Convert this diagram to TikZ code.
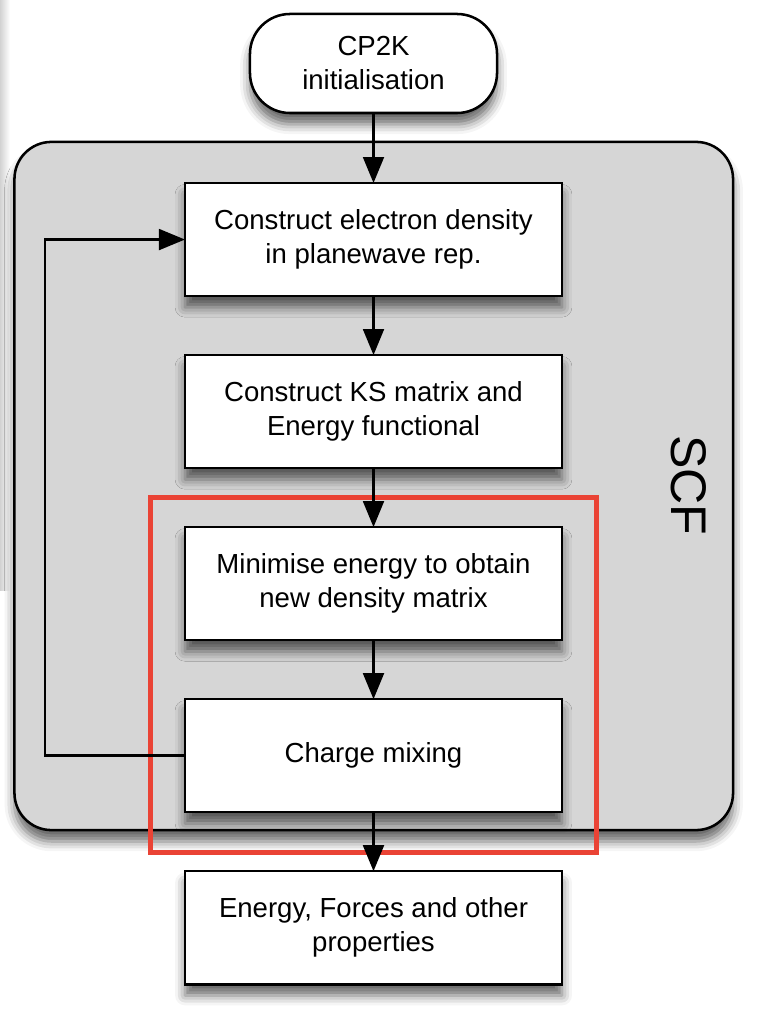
\documentclass[tikz,border=0pt]{standalone}
\usepackage{fontspec}
\setmainfont{Liberation Sans}
\usetikzlibrary{positioning}
\usetikzlibrary{arrows.meta}
\usetikzlibrary{shadows.blur}
\definecolor{scfgrey}{RGB}{214,214,214}
\definecolor{markred}{RGB}{234,67,53}
\tikzstyle{softshadow}=[blur shadow={shadow xshift=0pt, shadow yshift=-8pt, shadow blur radius=7pt, shadow opacity=60}]
\tikzstyle{stage}=[draw, fill=white, line width=1.8pt, outer sep=0pt, minimum width=9.425cm, minimum height=2.825cm, align=center, font=\fontsize{19.6}{24.2}\selectfont, softshadow]
\tikzstyle{startstop}=[stage, rounded corners=1cm, minimum width=6.175cm, minimum height=2.475cm]
\tikzstyle{flowarrow}=[line width=1.8pt, -{Triangle[length=0.65cm, width=0.52cm]}]
\newcommand{\scfloop}[3]{% feedback line: from, via x of, to
  \draw[flowarrow] (#1.west) -- (#1.west -| #2) |- (#3.west);
}

\begin{document}
\begin{tikzpicture}[x=0.025cm, y=-0.025cm, node distance=1.475cm]
	\useasboundingbox (0,0) rectangle (765,1023);
	%edge of the page
	\shade[left color=gray!35, right color=white] (0,0) rectangle (10,590);
	%SCF cycle
	\node[draw, fill=scfgrey, line width=1.8pt, rounded corners=0.925cm, minimum width=17.96cm, minimum height=17.2cm, softshadow] (scf) at (373.75,486) {};
	\node[rotate=-90, font=\fontsize{35.6}{40}\selectfont] (scflabel) at (688.5,485.5) {SCF};
	\node[startstop] (init) at (373.5,63.5) {CP2K\\initialisation};
	\node[stage, below=1.75cm of init] (density) {Construct electron density\\in planewave rep.};
	\node[stage, below=of density] (ksmatrix) {Construct KS matrix and\\Energy functional};
	\node[stage, below=of ksmatrix] (minimise) {Minimise energy to obtain\\new density matrix};
	\node[stage, below=of minimise] (mixing) {Charge mixing};
	\node[stage, below=of mixing] (results) {Energy, Forces and other\\properties};
	%highlight
	\draw[markred, line width=0.125cm] (150.5,497.5) rectangle (596,852.5);
	\draw[flowarrow] (init) -- (density);
	\draw[flowarrow] (density) -- (ksmatrix);
	\draw[flowarrow] (ksmatrix) -- (minimise);
	\draw[flowarrow] (minimise) -- (mixing);
	\draw[flowarrow] (mixing) -- (results);
	\coordinate (loopleft) at (45,0);
	\scfloop{mixing}{loopleft}{density}
\end{tikzpicture}
\end{document}
